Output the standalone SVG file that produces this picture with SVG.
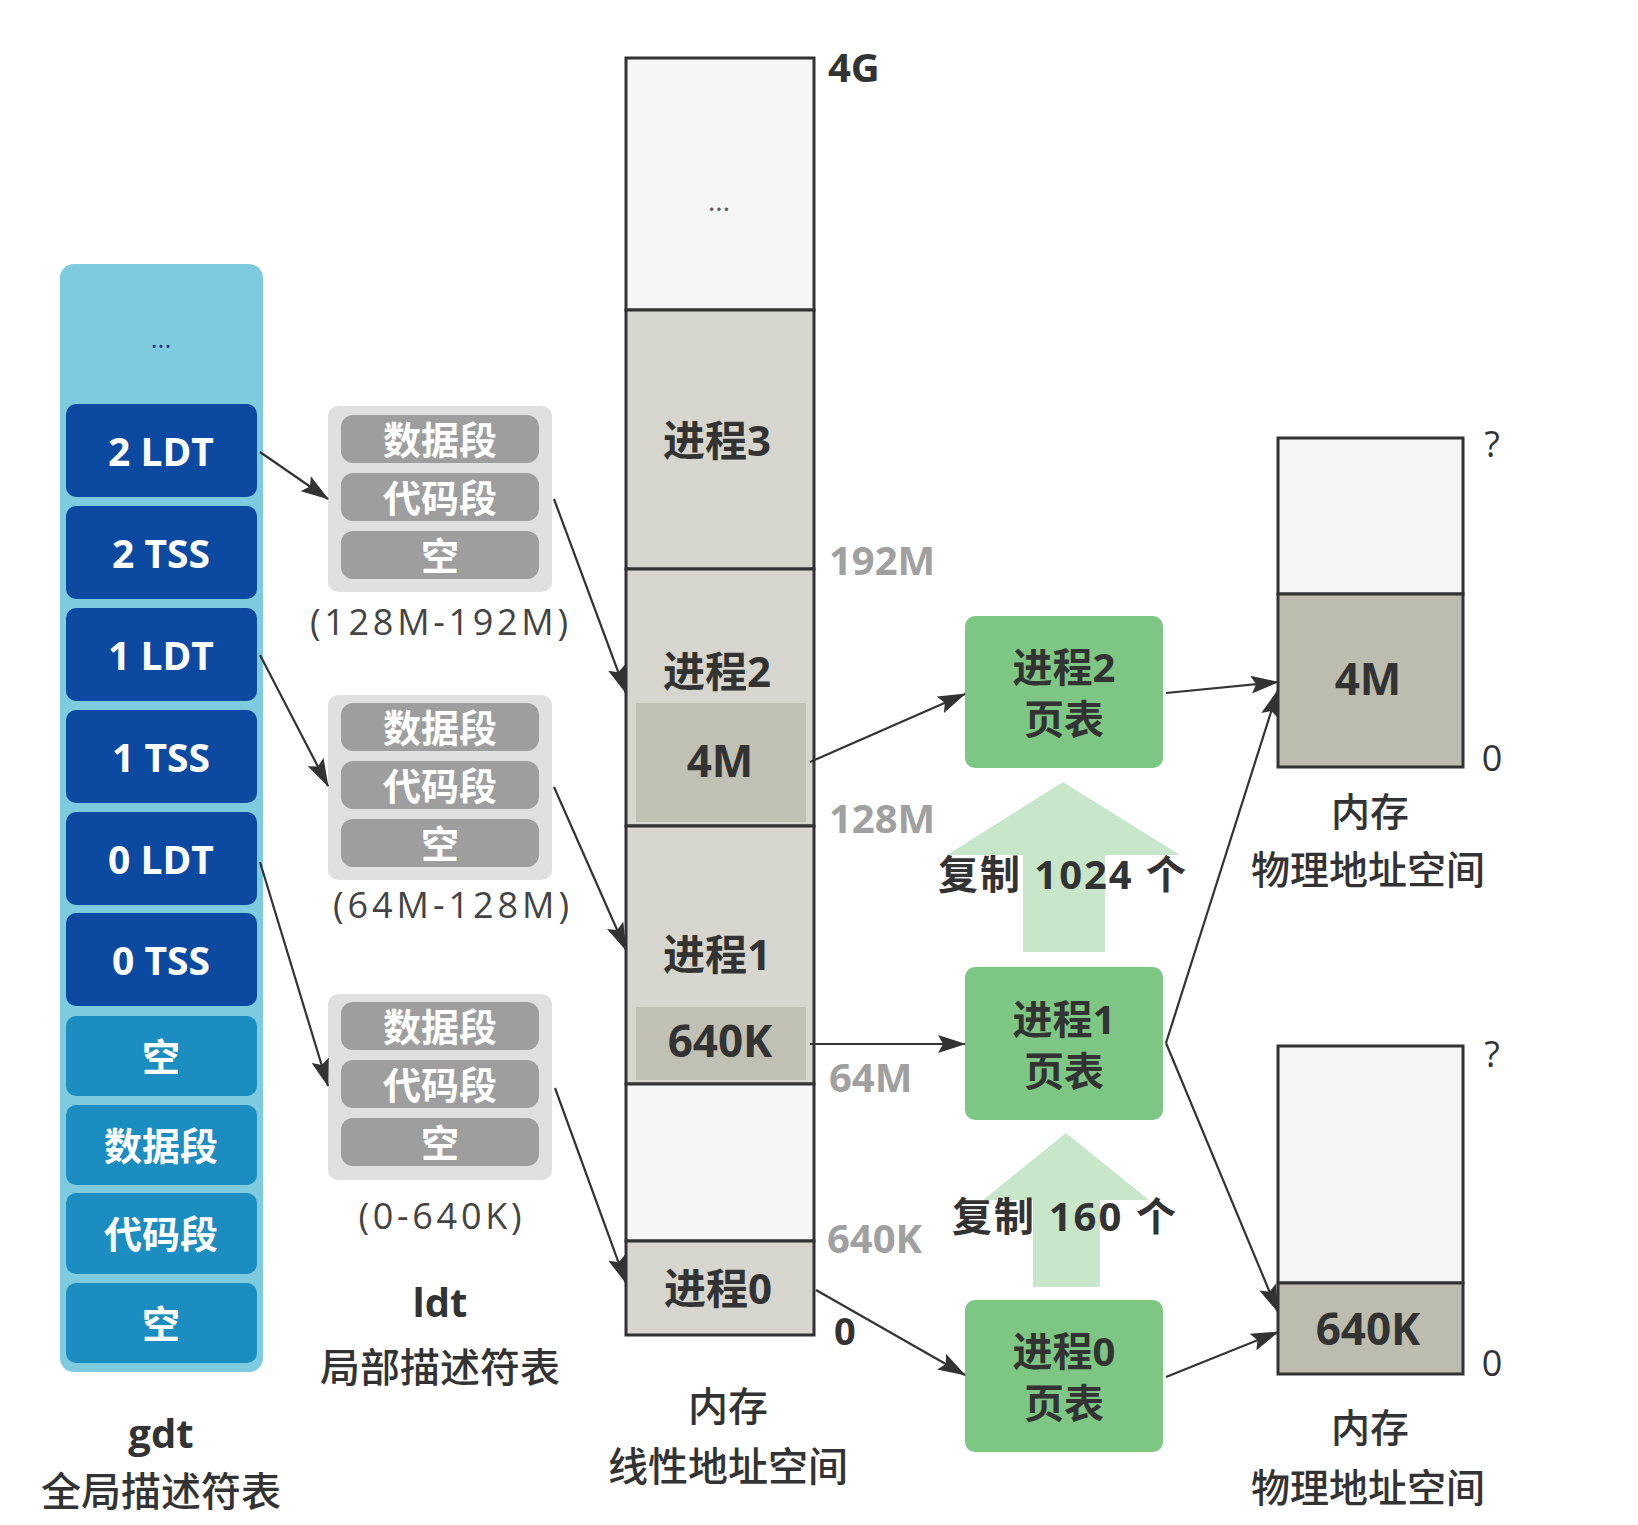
<svg xmlns="http://www.w3.org/2000/svg" width="1638" height="1525" viewBox="0 0 1638 1525">
<defs>
<style>
text { font-family: "Open Sans", "Noto Sans CJK SC", sans-serif; dominant-baseline: central; text-anchor: middle; }
.b { font-weight: 700; }
.m { font-weight: 500; }
.w { fill: #ffffff; }
.d { fill: #333333; }
.gy { fill: #a0a0a0; }
.st { text-anchor: start; }
.gdtOuter { fill: #7ecbe0; }
.gdtDark { fill: #0c4aa1; }
.gdtLight { fill: #1c8dc0; }
.ldtOuter { fill: #e0e0e0; }
.ldtItem { fill: #9e9e9e; }
.mem { stroke: #333333; stroke-width: 3; }
.empty { fill: #f5f5f5; }
.proc { fill: #d6d6cf; }
.sub { fill: #c0c0b4; }
.phys { fill: #bcbcaf; }
.pt { fill: #7dc683; }
.copy { fill: #c8e6c9; }
.conn { stroke: #333333; stroke-width: 2.2; fill: none; marker-end: url(#ah); }
</style>
<marker id="ah" viewBox="0 0 28 18" refX="27" refY="9" markerWidth="28" markerHeight="18" orient="auto" markerUnits="userSpaceOnUse">
<path d="M0,0 L28,9 L0,18 L5,9 z" fill="#333333"/>
</marker>
</defs>
<rect width="1638" height="1525" fill="#ffffff"/>

<g id="gdt">
<rect class="gdtOuter" x="60" y="264" width="203" height="1108" rx="14"/>
<text x="161" y="338" font-size="26" fill="#1a3f7a">...</text>
<rect class="gdtDark" x="66" y="404" width="191" height="93" rx="10"/>
<text class="b w" x="161" y="450" font-size="39">2 LDT</text>
<rect class="gdtDark" x="66" y="506" width="191" height="93" rx="10"/>
<text class="b w" x="161" y="552" font-size="39">2 TSS</text>
<rect class="gdtDark" x="66" y="608" width="191" height="93" rx="10"/>
<text class="b w" x="161" y="654" font-size="39">1 LDT</text>
<rect class="gdtDark" x="66" y="710" width="191" height="93" rx="10"/>
<text class="b w" x="161" y="756" font-size="39">1 TSS</text>
<rect class="gdtDark" x="66" y="812" width="191" height="93" rx="10"/>
<text class="b w" x="161" y="858" font-size="39">0 LDT</text>
<rect class="gdtDark" x="66" y="913" width="191" height="93" rx="10"/>
<text class="b w" x="161" y="959" font-size="39">0 TSS</text>
<rect class="gdtLight" x="66" y="1016" width="191" height="80" rx="10"/>
<text class="b w" x="161" y="1056" font-size="38">空</text>
<rect class="gdtLight" x="66" y="1105" width="191" height="80" rx="10"/>
<text class="b w" x="161" y="1145" font-size="38">数据段</text>
<rect class="gdtLight" x="66" y="1193" width="191" height="81" rx="10"/>
<text class="b w" x="161" y="1233" font-size="38">代码段</text>
<rect class="gdtLight" x="66" y="1283" width="191" height="80" rx="10"/>
<text class="b w" x="161" y="1323" font-size="38">空</text>
<text class="b d" x="161" y="1432" font-size="40">gdt</text>
<text class="m d" x="161" y="1490" font-size="40">全局描述符表</text>
</g>

<g id="ldt2">
<rect class="ldtOuter" x="328" y="406" width="224" height="186" rx="10"/>
<rect class="ldtItem" x="341" y="415" width="198" height="48" rx="12"/>
<text class="b w" x="440" y="439" font-size="38">数据段</text>
<rect class="ldtItem" x="341" y="473" width="198" height="48" rx="12"/>
<text class="b w" x="440" y="497" font-size="38">代码段</text>
<rect class="ldtItem" x="341" y="531" width="198" height="48" rx="12"/>
<text class="b w" x="440" y="555" font-size="38">空</text>
<text x="439" y="621" font-size="36" fill="#444" textLength="258" lengthAdjust="spacing">(128M-192M)</text>
</g>

<g id="ldt1">
<rect class="ldtOuter" x="328" y="695" width="224" height="185" rx="10"/>
<rect class="ldtItem" x="341" y="703" width="198" height="48" rx="12"/>
<text class="b w" x="440" y="727" font-size="38">数据段</text>
<rect class="ldtItem" x="341" y="761" width="198" height="48" rx="12"/>
<text class="b w" x="440" y="785" font-size="38">代码段</text>
<rect class="ldtItem" x="341" y="819" width="198" height="48" rx="12"/>
<text class="b w" x="440" y="843" font-size="38">空</text>
<text x="451" y="904" font-size="36" fill="#444" textLength="236" lengthAdjust="spacing">(64M-128M)</text>
</g>

<g id="ldt0">
<rect class="ldtOuter" x="328" y="994" width="224" height="186" rx="10"/>
<rect class="ldtItem" x="341" y="1002" width="198" height="48" rx="12"/>
<text class="b w" x="440" y="1026" font-size="38">数据段</text>
<rect class="ldtItem" x="341" y="1060" width="198" height="48" rx="12"/>
<text class="b w" x="440" y="1084" font-size="38">代码段</text>
<rect class="ldtItem" x="341" y="1118" width="198" height="48" rx="12"/>
<text class="b w" x="440" y="1142" font-size="38">空</text>
<text x="440" y="1215" font-size="36" fill="#444" textLength="163" lengthAdjust="spacing">(0-640K)</text>
<text class="b d" x="440" y="1301" font-size="40">ldt</text>
<text class="m d" x="440" y="1366" font-size="40">局部描述符表</text>
</g>

<g id="linear">
<rect class="mem empty" x="626" y="58" width="188" height="252"/>
<text x="719" y="200" font-size="28" fill="#555">...</text>
<rect class="mem proc" x="626" y="310" width="188" height="259"/>
<text class="b d" x="717" y="439" font-size="42">进程3</text>
<rect class="mem proc" x="626" y="569" width="188" height="257"/>
<text class="b d" x="717" y="670" font-size="42">进程2</text>
<rect class="sub" x="636" y="703" width="170" height="119"/>
<text class="b d" x="720" y="760" font-size="44">4M</text>
<rect class="mem proc" x="626" y="826" width="188" height="258"/>
<text class="b d" x="717" y="953" font-size="42">进程1</text>
<rect class="sub" x="636" y="1007" width="170" height="73"/>
<text class="b d" x="720" y="1040" font-size="44">640K</text>
<rect class="mem empty" x="626" y="1084" width="188" height="157"/>
<rect class="mem proc" x="626" y="1241" width="188" height="94"/>
<text class="b d" x="718" y="1287" font-size="42">进程0</text>
<text class="b d st" x="828" y="66" font-size="40">4G</text>
<text class="b gy st" x="829" y="559" font-size="40">192M</text>
<text class="b gy st" x="829" y="817" font-size="40">128M</text>
<text class="b gy st" x="829" y="1076" font-size="40">64M</text>
<text class="b gy st" x="827" y="1237" font-size="40">640K</text>
<text class="b d st" x="834" y="1330" font-size="38">0</text>
<text class="m d" x="728" y="1405" font-size="40">内存</text>
<text class="m d" x="728" y="1465" font-size="40">线性地址空间</text>
</g>

<g id="copy-arrows">
<polygon class="copy" points="1063,782 1180,855 1105,855 1105,952 1023,952 1023,855 947,855"/>
<text class="b d" x="1062" y="873" font-size="40" textLength="248" lengthAdjust="spacing">复制 1024 个</text>
<polygon class="copy" points="1066,1133 1149,1200 1100,1200 1100,1287 1033,1287 1033,1200 983,1200"/>
<text class="b d" x="1064" y="1215" font-size="40" textLength="224" lengthAdjust="spacing">复制 160 个</text>
</g>

<g id="pt2">
<rect class="pt" x="965" y="616" width="198" height="152" rx="10"/>
<text class="b d" x="1064" y="666" font-size="40">进程2</text>
<text class="b d" x="1064" y="718" font-size="40">页表</text>
</g>
<g id="pt1">
<rect class="pt" x="965" y="967" width="198" height="153" rx="10"/>
<text class="b d" x="1064" y="1018" font-size="40">进程1</text>
<text class="b d" x="1064" y="1070" font-size="40">页表</text>
</g>
<g id="pt0">
<rect class="pt" x="965" y="1300" width="198" height="152" rx="10"/>
<text class="b d" x="1064" y="1350" font-size="40">进程0</text>
<text class="b d" x="1064" y="1402" font-size="40">页表</text>
</g>

<g id="phys-top">
<rect class="mem empty" x="1278" y="438" width="185" height="156"/>
<rect class="mem phys" x="1278" y="594" width="185" height="173"/>
<text class="b d" x="1368" y="678" font-size="44">4M</text>
<text class="d" x="1492" y="443" font-size="36">?</text>
<text class="d" x="1492" y="757" font-size="36">0</text>
<text class="m d" x="1370" y="810" font-size="39">内存</text>
<text class="m d" x="1368" y="868" font-size="39">物理地址空间</text>
</g>

<g id="phys-bottom">
<rect class="mem empty" x="1278" y="1046" width="185" height="237"/>
<rect class="mem phys" x="1278" y="1283" width="185" height="91"/>
<text class="b d" x="1368" y="1328" font-size="44">640K</text>
<text class="d" x="1492" y="1053" font-size="36">?</text>
<text class="d" x="1492" y="1362" font-size="36">0</text>
<text class="m d" x="1370" y="1426" font-size="39">内存</text>
<text class="m d" x="1368" y="1486" font-size="39">物理地址空间</text>
</g>

<g id="connectors">
<line class="conn" x1="260" y1="452" x2="328" y2="499"/>
<line class="conn" x1="260" y1="655" x2="328" y2="786"/>
<line class="conn" x1="260" y1="862" x2="328" y2="1086"/>
<line class="conn" x1="554" y1="499" x2="626" y2="693"/>
<line class="conn" x1="554" y1="787" x2="626" y2="950"/>
<line class="conn" x1="555" y1="1088" x2="626" y2="1283"/>
<line class="conn" x1="810" y1="762" x2="965" y2="694"/>
<line class="conn" x1="810" y1="1044" x2="965" y2="1044"/>
<line class="conn" x1="816" y1="1290" x2="965" y2="1375"/>
<line class="conn" x1="1166" y1="693" x2="1278" y2="682"/>
<line class="conn" x1="1166" y1="1043" x2="1278" y2="690"/>
<line class="conn" x1="1166" y1="1043" x2="1278" y2="1312"/>
<line class="conn" x1="1166" y1="1377" x2="1278" y2="1332"/>
</g>
</svg>
